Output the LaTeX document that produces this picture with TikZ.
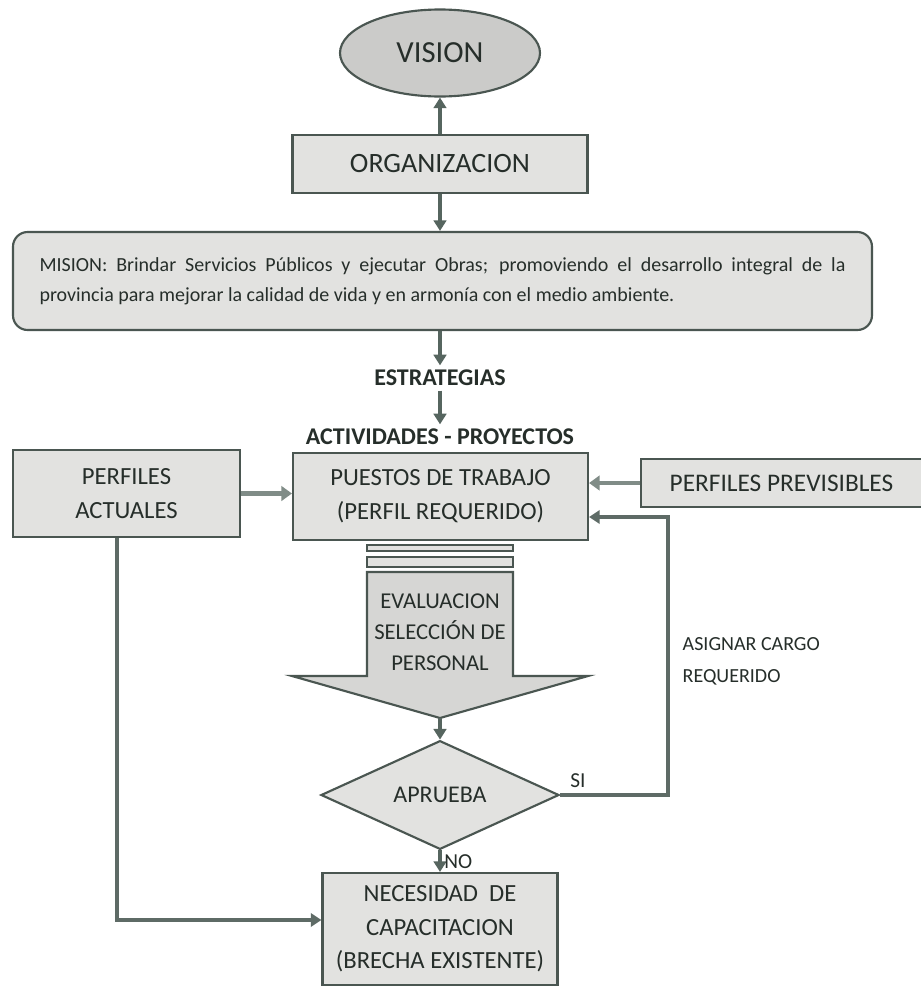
\documentclass[tikz,border=0pt]{standalone}
\usepackage{fontspec}
\setmainfont{Carlito}
\usetikzlibrary{shapes.geometric,arrows.meta}
\definecolor{edge}{HTML}{4A5651}
\definecolor{boxfill}{HTML}{E2E2E0}
\definecolor{visfill}{HTML}{CBCBC9}
\definecolor{arrfill}{HTML}{D6D6D4}
\definecolor{txt}{HTML}{262E2A}
\definecolor{arrc}{HTML}{56655F}
\definecolor{harrc}{HTML}{808C87}
\definecolor{lnc}{HTML}{5E6B66}
\begin{document}
\begin{tikzpicture}[x=0.75pt,y=-0.75pt,
  every node/.style={text=txt},
  box/.style={draw=edge, fill=boxfill, line width=1.6pt, align=center, inner sep=0pt},
  arr/.style={draw=arrc, line width=2.4pt, -{Triangle[width=9.5pt,length=8pt]}},
  harr/.style={draw=harrc, line width=3.6pt, -{Triangle[width=11pt,length=8pt]}},
  lnarr/.style={draw=lnc, line width=2.4pt, -{Triangle[width=10pt,length=8pt]}},
  lbl/.style={font=\bfseries\fontsize{18}{22}\selectfont}]
\fill[white] (0,0) rectangle (921,989);
\useasboundingbox (0,0) rectangle (921,989);

\node[draw=edge, fill=visfill, line width=1.6pt, ellipse, minimum width=150pt, minimum height=65.25pt, inner sep=0pt, font=\fontsize{23}{27}\selectfont] (vision) at (440,53) {VISION};
\node[box, minimum width=221.25pt, minimum height=43.5pt, font=\fontsize{21}{25}\selectfont] (org) at (440,164) {ORGANIZACION};
\node[box, rounded corners=11pt, minimum width=644.25pt, minimum height=73.5pt, text width=604.5pt, align=justify, font=\fontsize{15}{22.5}\selectfont] (mision) at (442.5,281) {MISION: Brindar Servicios Públicos y ejecutar Obras; promoviendo el desarrollo integral de la\linebreak provincia para mejorar la calidad de vida y en armonía con el medio ambiente.};

\draw[arr] (org.north) -- (vision.south);
\draw[arr] (org.south) -- (org.south |- mision.north);

\node[lbl] (estr) at (440,378) {ESTRATEGIAS};
\node[lbl] (activ) at (440,437) {ACTIVIDADES - PROYECTOS};
\draw[arr] (mision.south -| estr.north) -- (estr.north);
\draw[arr] (estr.south) -- (activ.north);

\node[box, minimum width=221.25pt, minimum height=65.25pt, font=\fontsize{18.5}{25.5}\selectfont] (puestos) at (440.5,496.5) {PUESTOS DE TRABAJO\\(PERFIL REQUERIDO)};
\node[box, minimum width=170.25pt, minimum height=65.25pt, font=\fontsize{18.5}{26}\selectfont] (actuales) at (126.5,493.5) {PERFILES\\ACTUALES};
\node[box, minimum width=210.75pt, minimum height=36pt, font=\fontsize{19}{23}\selectfont] (previs) at (781.5,483) {PERFILES PREVISIBLES};

\draw[harr] (actuales.east) -- (actuales.east -| puestos.west);
\draw[harr] (previs.west) -- (previs.west -| puestos.east);

% block arrow
\draw[draw=edge, fill=boxfill, line width=1.2pt] (367,545) rectangle (513,551);
\draw[draw=edge, fill=boxfill, line width=1.2pt] (367,557) rectangle (513,567);
\draw[draw=edge, fill=arrfill, line width=1.6pt] (367,572) -- (513,572) -- (513,676) -- (588,676) -- (440,718) -- (292,676) -- (367,676) -- cycle;
\coordinate (tip) at (440,718);
\node[align=center, font=\fontsize{17}{23.25}\selectfont] (eval) at (440,632) {EVALUACION\\SELECCIÓN DE\\PERSONAL};

\node[diamond, draw=edge, fill=boxfill, line width=1.6pt, minimum width=178.5pt, minimum height=73.5pt, inner sep=0pt, font=\fontsize{18}{22}\selectfont] (apr) at (440,795) {APRUEBA};
\draw[arr] (tip) -- (apr.north);

\node[box, minimum width=176.25pt, minimum height=84pt, font=\fontsize{18.5}{25}\selectfont] (need) at (440,929) {NECESIDAD~~DE\\CAPACITACION\\(BRECHA EXISTENTE)};
\draw[arr] (apr.south) -- (need.north) node[midway, right, inner sep=2pt, font=\fontsize{16}{19}\selectfont] (no) {NO};

\coordinate (c1) at (117,920);
\draw[lnarr] (actuales.south -| c1) -- (c1) -- (c1 -| need.west);

\coordinate (c2) at (668,795);
\coordinate (c3) at (668,517);
\draw[lnarr] (apr.east) -- (c2) -- (c3) -- (c3 -| puestos.east);
\node[font=\fontsize{16}{20}\selectfont] (si) at (578,781) {SI};
\node[anchor=west, align=left, font=\fontsize{15}{24}\selectfont] (asig) at (678,661) {ASIGNAR CARGO\\REQUERIDO};
\end{tikzpicture}
\end{document}
